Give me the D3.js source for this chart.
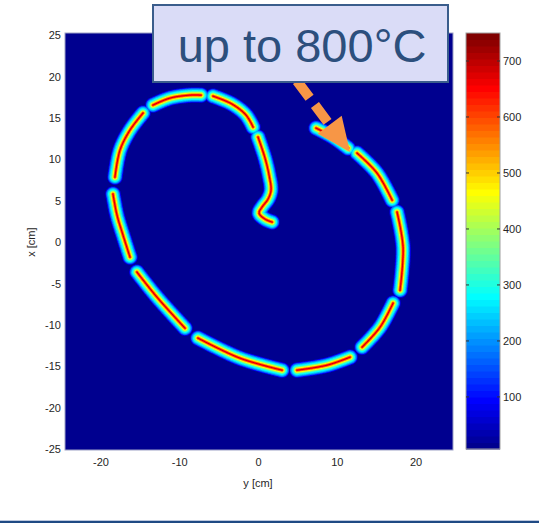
<!DOCTYPE html>
<html>
<head>
<meta charset="utf-8">
<script src="https://cdn.jsdelivr.net/npm/d3@7/dist/d3.min.js"></script>
<style>
  body { margin: 0; background: #fff; }
  svg { display: block; }
  text { font-family: "Liberation Sans", Arial, sans-serif; }
</style>
</head>
<body>
<div id="chart"></div>
<script>
// Heater strip centre lines, [y cm, x cm] (inner end first)
const stripA = [[1.78, 2.42], [0.89, 2.78], [0.13, 3.50], [0.51, 4.23], [1.27, 5.19], [1.65, 6.28], [1.40, 8.09], [0.89, 10.14], [0.0, 12.68]];
const stripB = [[-0.63, 13.89], [-1.52, 15.34], [-3.30, 16.67], [-5.71, 17.63]];
const stripC = [[-7.24, 17.75], [-8.63, 17.75], [-11.17, 17.39], [-13.33, 16.55]];
const stripD = [[-14.60, 15.58], [-16.25, 13.53], [-17.52, 11.11], [-18.16, 7.85]];
const stripE = [[-18.41, 5.80], [-17.90, 3.26], [-17.14, 0.85], [-16.25, -1.81]];
const stripF = [[-15.37, -3.62], [-12.83, -6.64], [-9.27, -10.39]];
const stripG = [[-7.62, -11.59], [-2.29, -14.01], [3.05, -15.46]];
const stripH = [[4.95, -15.46], [8.76, -14.86], [11.68, -13.89]];
const stripI = [[13.21, -12.68], [15.49, -10.27], [17.14, -7.37]];
const stripJ = [[18.03, -5.80], [18.41, -0.60], [17.65, 3.62]];
const stripK = [[17.02, 5.07], [15.11, 8.33], [12.57, 10.75]];
const stripL = [[11.43, 11.35], [9.52, 12.68], [7.37, 13.77]];
const strips = [stripA, stripB, stripC, stripD, stripE, stripF, stripG, stripH, stripI, stripJ, stripK, stripL];

// Cross-strip temperature profile: distance from centre line (px) -> °C
const profileDist = [0, 0.8, 1.8, 2.8, 4.0, 5.5, 6.6, 7.6, 8.4];
const profileTemp = [690, 610, 490, 390, 300, 225, 155, 50, 7];
const tempRange = [7, 750];    // colour limits
const xTicks = [-20, -10, 0, 10, 20];
const yTicks = [25, 20, 15, 10, 5, 0, -5, -10, -15, -20, -25];
const cbTicks = [100, 200, 300, 400, 500, 600, 700];
const noteText = 'up to 800°C';

// MATLAB jet colormap
function jet(m) {
    const n = Math.ceil(m / 4);
    const u = [];
    for (let i = 1; i <= n; i++) u.push(i / n);
    for (let i = 1; i < n; i++) u.push(1);
    for (let i = n; i >= 1; i--) u.push(i / n);
    const g0 = Math.ceil(n / 2) - (m % 4 === 1 ? 1 : 0);
    const J = Array.from({length: m}, () => [0, 0, 0]);
    u.forEach((v, k) => {
        const g = g0 + k + 1, r = g + n, b = g - n;
        if (r >= 1 && r <= m) J[r - 1][0] = v;
        if (g >= 1 && g <= m) J[g - 1][1] = v;
        if (b >= 1 && b <= m) J[b - 1][2] = v;
    });
    return J.map(c => c.map(v => Math.round(v * 255)));
}
const cmap = jet(64);
const colorIndex = d3.scaleQuantize().domain(tempRange).range(d3.range(64));
const profile = d3.scaleLinear().domain(profileDist).range(profileTemp).clamp(true);

const W = 539, H = 523;
const plot = {left: 65, right: 453, top: 33, bottom: 450};

const svg = d3.select('#chart').append('svg').attr('width', W).attr('height', H);

const x = d3.scaleLinear().domain([-24.5, 24.75]).range([plot.left, plot.right]);
const y = d3.scaleLinear().domain([-25.1, 25.25]).range([plot.bottom, plot.top]);

// Smooth each strip with a Catmull-Rom curve and sample it into short segments
const pw = plot.right - plot.left, ph = plot.bottom - plot.top;
const line = d3.line().x(d => x(d[0]) - plot.left).y(d => y(d[1]) - plot.top)
    .curve(d3.curveCatmullRom.alpha(0.5));
const segs = [];
strips.forEach(s => {
    const p = svg.append('path').attr('d', line(s)).node();
    const L = p.getTotalLength();
    const n = Math.max(2, Math.ceil(L / 2));
    let prev = null;
    for (let i = 0; i <= n; i++) {
        const pt = p.getPointAtLength(L * i / n);
        const cur = [pt.x, pt.y];
        if (prev) segs.push([prev, cur]);
        prev = cur;
    }
    p.remove();
});

function distSeg(px, py, a, b) {
    const dx = b[0] - a[0], dy = b[1] - a[1];
    const l2 = dx * dx + dy * dy || 1e-9;
    let t = ((px - a[0]) * dx + (py - a[1]) * dy) / l2;
    t = Math.max(0, Math.min(1, t));
    const ex = a[0] + t * dx - px, ey = a[1] + t * dy - py;
    return ex * ex + ey * ey;
}

// Temperature field rendered pixel by pixel
const canvas = document.createElement('canvas');
canvas.width = pw; canvas.height = ph;
const ctx = canvas.getContext('2d');
const img = ctx.createImageData(pw, ph);
for (let j = 0; j < ph; j++) {
    for (let i = 0; i < pw; i++) {
        const px = i + 0.5, py = j + 0.5;
        let best = Infinity;
        for (const s of segs) {
            if (Math.abs(s[0][0] - px) > 14 || Math.abs(s[0][1] - py) > 14) continue;
            const d2 = distSeg(px, py, s[0], s[1]);
            if (d2 < best) best = d2;
        }
        const T = profile(Math.sqrt(best));
        const c = cmap[colorIndex(T)];
        const k = (j * pw + i) * 4;
        img.data[k] = c[0]; img.data[k + 1] = c[1]; img.data[k + 2] = c[2]; img.data[k + 3] = 255;
    }
}
ctx.putImageData(img, 0, 0);

svg.append('image')
    .attr('x', plot.left).attr('y', plot.top)
    .attr('width', pw).attr('height', ph)
    .attr('href', canvas.toDataURL());

svg.append('rect')
    .attr('x', plot.left).attr('y', plot.top)
    .attr('width', pw).attr('height', ph)
    .attr('fill', 'none').attr('stroke', '#9ea2c6').attr('stroke-width', 1);

// Axes
const fmt = d => String(d);
const yAxis = svg.append('g').attr('transform', `translate(${plot.left},0)`)
    .call(d3.axisLeft(y).tickValues(yTicks).tickFormat(fmt).tickSize(0).tickPadding(4));
const xAxis = svg.append('g').attr('transform', `translate(0,${plot.bottom})`)
    .call(d3.axisBottom(x).tickValues(xTicks).tickFormat(fmt).tickSize(0).tickPadding(8));
[xAxis, yAxis].forEach(a => {
    a.select('.domain').remove();
    a.selectAll('text').attr('font-size', 11).attr('fill', '#262626')
        .attr('font-family', '"Liberation Sans", Arial, sans-serif');
});

svg.append('text').attr('x', x(0)).attr('y', 487)
    .attr('text-anchor', 'middle').attr('font-size', 11).attr('fill', '#262626')
    .text('y [cm]');
svg.append('text').attr('transform', `translate(35,${y(0)}) rotate(-90)`)
    .attr('text-anchor', 'middle').attr('font-size', 11).attr('fill', '#262626')
    .text('x [cm]');

// Colour bar
const cb = {left: 466, right: 500};
const cbScale = d3.scaleLinear().domain(tempRange).range([449, plot.top]);
const step = (tempRange[1] - tempRange[0]) / 64;
svg.append('g').selectAll('rect').data(d3.range(64)).join('rect')
    .attr('x', cb.left).attr('width', cb.right - cb.left)
    .attr('y', i => cbScale(tempRange[0] + (i + 1) * step))
    .attr('height', i => cbScale(tempRange[0] + i * step) - cbScale(tempRange[0] + (i + 1) * step) + 0.5)
    .attr('fill', i => `rgb(${cmap[i].join(',')})`);
svg.append('rect')
    .attr('x', cb.left).attr('y', plot.top)
    .attr('width', cb.right - cb.left).attr('height', 449 - plot.top)
    .attr('fill', 'none').attr('stroke', '#a0a0a0').attr('stroke-width', 1);
svg.append('g').selectAll('line').data(cbTicks).join('line')
    .attr('x1', cb.left).attr('x2', cb.left + 3)
    .attr('y1', d => cbScale(d)).attr('y2', d => cbScale(d))
    .attr('stroke', '#333');
svg.append('g').selectAll('line').data(cbTicks).join('line')
    .attr('x1', cb.right - 3).attr('x2', cb.right)
    .attr('y1', d => cbScale(d)).attr('y2', d => cbScale(d))
    .attr('stroke', '#333');
const cbAxis = svg.append('g').attr('transform', `translate(${cb.right},0)`)
    .call(d3.axisRight(cbScale).tickValues(cbTicks).tickFormat(fmt).tickSize(0).tickPadding(3));
cbAxis.select('.domain').remove();
cbAxis.selectAll('text').attr('font-size', 11).attr('fill', '#262626')
    .attr('font-family', '"Liberation Sans", Arial, sans-serif');

// Dashed orange arrow
const tail = [297, 81], tip = [350, 152];
const len = Math.hypot(tip[0] - tail[0], tip[1] - tail[1]);
const ux = (tip[0] - tail[0]) / len, uy = (tip[1] - tail[1]) / len;
const headLen = 34, headHalf = 15;
const base = [tip[0] - ux * headLen, tip[1] - uy * headLen];
svg.append('line')
    .attr('x1', tail[0]).attr('y1', tail[1])
    .attr('x2', base[0] + ux * 4).attr('y2', base[1] + uy * 4)
    .attr('stroke', '#f79646').attr('stroke-width', 10)
    .attr('stroke-dasharray', '21,9');
svg.append('path')
    .attr('d', d3.line()([
        [base[0] - uy * headHalf, base[1] + ux * headHalf],
        tip,
        [base[0] + uy * headHalf, base[1] - ux * headHalf]
    ]) + 'Z')
    .attr('fill', '#f79646');

// Note box
svg.append('rect')
    .attr('x', 153).attr('y', 5).attr('width', 295).attr('height', 77)
    .attr('fill', '#dadcf7').attr('stroke', '#3a5d8c').attr('stroke-width', 2);
svg.append('text').attr('x', 302).attr('y', 62)
    .attr('text-anchor', 'middle').attr('font-size', 47).attr('fill', '#2c4f7d')
    .text(noteText);

// Slide footer rule
svg.append('line').attr('x1', 0).attr('x2', W).attr('y1', 520.5).attr('y2', 520.5)
    .attr('stroke', '#bcc8de').attr('stroke-width', 1);
svg.append('rect').attr('x', 0).attr('y', 521).attr('width', W).attr('height', 2)
    .attr('fill', '#1f4a84');
</script>
</body>
</html>
